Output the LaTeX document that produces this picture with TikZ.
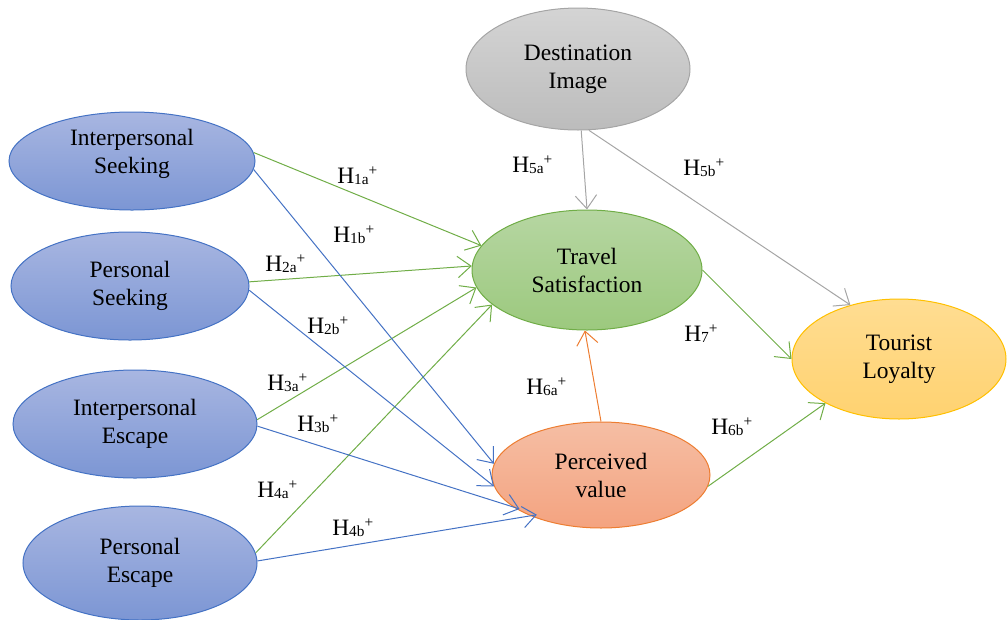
\documentclass[tikz,border=0pt]{standalone}
\usepackage{fontspec}
\setmainfont{Liberation Serif}
\usepackage{tikz}
\usetikzlibrary{shapes.geometric,arrows.meta}

\definecolor{blueLine}{RGB}{68,114,196}
\definecolor{blueTop}{RGB}{168,182,225}
\definecolor{blueBot}{RGB}{124,150,212}
\definecolor{greenLine}{RGB}{112,173,71}
\definecolor{greenTop}{RGB}{182,214,162}
\definecolor{greenBot}{RGB}{156,201,126}
\definecolor{grayLine}{RGB}{165,165,165}
\definecolor{grayTop}{RGB}{212,212,212}
\definecolor{grayBot}{RGB}{188,188,188}
\definecolor{orangeLine}{RGB}{237,125,49}
\definecolor{orangeTop}{RGB}{245,190,164}
\definecolor{orangeBot}{RGB}{244,163,128}
\definecolor{yellowLine}{RGB}{255,192,0}
\definecolor{yellowTop}{RGB}{255,221,146}
\definecolor{yellowBot}{RGB}{255,210,112}

\newcommand{\nodefont}{\fontsize{17.6}{21}\selectfont}
\newcommand{\hlab}[1]{H\raisebox{-1pt}{\fontsize{11.5}{12}\selectfont #1}\raisebox{6pt}{\fontsize{11.5}{12}\selectfont +}}

\tikzset{
  latent/.style={ellipse, line width=0.75pt, inner sep=0pt, align=center, font=\nodefont},
  blueEll/.style={latent, draw=blueLine, top color=blueTop, bottom color=blueBot},
  greenEll/.style={latent, draw=greenLine, top color=greenTop, bottom color=greenBot},
  grayEll/.style={latent, draw=grayLine, top color=grayTop, bottom color=grayBot},
  orangeEll/.style={latent, draw=orangeLine, top color=orangeTop, bottom color=orangeBot},
  yellowEll/.style={latent, draw=yellowLine, top color=yellowTop, bottom color=yellowBot},
  path/.style={line width=0.75pt, -{Straight Barb[length=10pt,width=16pt,line width=0.75pt]}},
  hyp/.style={anchor=base west, inner sep=0pt, font=\nodefont}
}

\begin{document}
\begin{tikzpicture}[x=0.75pt,y=0.75pt,yscale=-1,xscale=1]
\useasboundingbox (0,0) rectangle (1008,619);

%Ellipses
\node [blueEll, minimum width=184.5pt, minimum height=73.5pt] (intSeek) at (132,161) {Interpersonal\\Seeking\\[-6pt]};
\node [blueEll, minimum width=178.5pt, minimum height=81pt] (perSeek) at (130,286) {Personal\\Seeking};
\node [blueEll, minimum width=183pt, minimum height=81pt] (intEsc) at (135,424) {Interpersonal\\Escape};
\node [blueEll, minimum width=175.5pt, minimum height=85.5pt] (perEsc) at (140,563) {Personal\\Escape};
\node [grayEll, minimum width=168pt, minimum height=91.5pt] (destImg) at (578,69) {Destination\\Image};
\node [greenEll, minimum width=172.5pt, minimum height=90pt] (travSat) at (587,270) {Travel\\Satisfaction};
\node [orangeEll, minimum width=163.5pt, minimum height=79.5pt] (percVal) at (601,475) {Perceived\\value};
\node [yellowEll, minimum width=160.5pt, minimum height=90pt] (tourLoy) at (899,359) {Tourist\\Loyalty};

%Paths to Travel Satisfaction
\draw [path, greenLine] (intSeek.4) -- (travSat.167);
\draw [path, greenLine] (perSeek.2) -- (travSat.178);
\draw [path, greenLine] (intEsc.2) -- (travSat.-171);
\draw [path, greenLine] (perEsc.5) -- (travSat.-160);
\draw [path, grayLine] (destImg.-87) -- (travSat.90);
\draw [path, orangeLine] (percVal.90) -- (travSat.-92);

%Paths to Perceived value
\draw [path, blueLine] (intSeek.-4) -- (percVal.174);
\draw [path, blueLine] (perSeek.-2) -- (percVal.-174);
\draw [path, blueLine, shorten >=-5pt] (intEsc.-1) -- (percVal.-160);
\draw [path, blueLine, shorten >=-5pt] (perEsc.1) -- (percVal.-150);

%Paths to Tourist Loyalty
\draw [path, grayLine] (destImg.-80) -- (tourLoy.132);
\draw [path, greenLine] (travSat.east) -- (tourLoy.west);
\draw [path, greenLine] (percVal.-6) -- (tourLoy.-149);

% Text Node
\node [hyp] (h1a) at (337,183) {\hlab{1a}};
\node [hyp] (h1b) at (333,242) {\hlab{1b}};
\node [hyp] (h2a) at (265,271) {\hlab{2a}};
\node [hyp] (h2b) at (307,333) {\hlab{2b}};
\node [hyp] (h3a) at (267,390) {\hlab{3a}};
\node [hyp] (h3b) at (297,431) {\hlab{3b}};
\node [hyp] (h4a) at (257,497) {\hlab{4a}};
\node [hyp] (h4b) at (332,535) {\hlab{4b}};
\node [hyp] (h5a) at (512,172) {\hlab{5a}};
\node [hyp] (h5b) at (683,175) {\hlab{5b}};
\node [hyp] (h6a) at (526,394) {\hlab{6a}};
\node [hyp] (h6b) at (711,434) {\hlab{6b}};
\node [hyp] (h7) at (684,341) {\hlab{7}};

\end{tikzpicture}
\end{document}
